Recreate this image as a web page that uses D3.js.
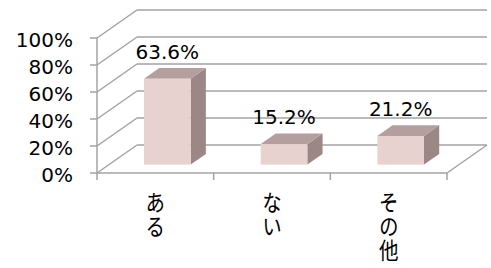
<!DOCTYPE html>
<html>
<head>
<meta charset="utf-8">
<script src="https://cdn.jsdelivr.net/npm/d3@7"></script>
<style>
  body { margin: 0; background: #fff; }
</style>
</head>
<body>
<div id="canvas"></div>
<script>
"use strict"

/* Data */
let categories = ["ある", "ない", "その他"];
let values = [0.636, 0.152, 0.212];
let valueLabels = ["63.6%", "15.2%", "21.2%"];
let yTicks = [0, 0.2, 0.4, 0.6, 0.8, 1.0];

/* Drawing config */
let svgWidth = 491;
let svgHeight = 268;
let depthX = 40;   // oblique offset of back wall
let depthY = -28;
let zFront = 0.3;  // bar depth position (0 = front, 1 = back)
let zBack = 0.68;
let gridColor = "#a3a3a3";

let svg = d3.select("#canvas")
    .append("svg")
    .attr("width", svgWidth)
    .attr("height", svgHeight);

let xScale = d3.scaleBand()
    .domain(categories)
    .range([97, 447])
    .paddingInner(0.6)
    .paddingOuter(0.3);

let yScale = d3.scaleLinear()
    .domain([0, 1])
    .range([173, 38]);

/* project a point at depth z */
function px(x, z) { return x + depthX * z; }
function py(v, z) { return yScale(v) + depthY * z; }

/* side wall diagonals + back wall gridlines */
yTicks.forEach(function (t) {
    svg.append("line")
        .attr("x1", px(97, 0)).attr("y1", py(t, 0))
        .attr("x2", px(97, 1)).attr("y2", py(t, 1))
        .attr("stroke", gridColor).attr("stroke-width", 1.5);
    svg.append("line")
        .attr("x1", px(97, 1)).attr("y1", py(t, 1))
        .attr("x2", px(447, 1)).attr("y2", py(t, 1))
        .attr("stroke", gridColor).attr("stroke-width", 1.5);
});

/* floor front and right edges */
svg.append("line")
    .attr("x1", 97).attr("y1", yScale(0))
    .attr("x2", 447).attr("y2", yScale(0))
    .attr("stroke", gridColor).attr("stroke-width", 1.5);
svg.append("line")
    .attr("x1", px(447, 0)).attr("y1", py(0, 0))
    .attr("x2", px(447, 1)).attr("y2", py(0, 1))
    .attr("stroke", gridColor).attr("stroke-width", 1.5);

/* front value axis */
svg.append("line")
    .attr("x1", 97).attr("y1", yScale(0))
    .attr("x2", 97).attr("y2", yScale(1))
    .attr("stroke", gridColor).attr("stroke-width", 1.5);

yTicks.forEach(function (t) {
    svg.append("line")
        .attr("x1", 90).attr("y1", yScale(t))
        .attr("x2", 97).attr("y2", yScale(t))
        .attr("stroke", gridColor).attr("stroke-width", 1.5);
    svg.append("text")
        .attr("x", 73)
        .attr("y", yScale(t) + 2)
        .attr("dy", "0.36em")
        .attr("text-anchor", "end")
        .style("font-family", "DejaVu Sans")
        .style("font-size", "20px")
        .style("fill", "#000")
        .text(Math.round(t * 100) + "%");
});

/* category ticks */
let catEdges = [97].concat(categories.map(function (c) {
    return xScale(c) + xScale.bandwidth() / 2 + xScale.step() / 2;
}));
catEdges.forEach(function (x) {
    svg.append("line")
        .attr("x1", x).attr("y1", yScale(0))
        .attr("x2", x).attr("y2", yScale(0) + 7)
        .attr("stroke", gridColor).attr("stroke-width", 1.5);
});

/* bars */
categories.forEach(function (c, i) {
    let x0 = xScale(c);
    let x1 = x0 + xScale.bandwidth();
    let v = values[i];
    let g = svg.append("g");

    // right side face
    g.append("polygon")
        .attr("points", [
            [px(x1, zFront), py(0, zFront)],
            [px(x1, zBack), py(0, zBack)],
            [px(x1, zBack), py(v, zBack)],
            [px(x1, zFront), py(v, zFront)]
        ].join(" "))
        .attr("fill", "#9c8787");

    // top face
    g.append("polygon")
        .attr("points", [
            [px(x0, zFront), py(v, zFront)],
            [px(x1, zFront), py(v, zFront)],
            [px(x1, zBack), py(v, zBack)],
            [px(x0, zBack), py(v, zBack)]
        ].join(" "))
        .attr("fill", "#b59f9e");

    // front face
    g.append("rect")
        .attr("x", px(x0, zFront))
        .attr("y", py(v, zFront))
        .attr("width", x1 - x0)
        .attr("height", yScale(0) - yScale(v))
        .attr("fill", "#e7d2cf");

    // value label
    svg.append("text")
        .attr("x", px(x0, zFront) + (x1 - x0) / 2)
        .attr("y", py(v, zBack) - 9)
        .attr("text-anchor", "middle")
        .style("font-family", "DejaVu Sans")
        .style("font-size", "20px")
        .style("fill", "#000")
        .text(valueLabels[i]);

    // vertical category label
    svg.append("text")
        .attr("transform", "translate(" + (x0 + xScale.bandwidth() / 2) + ",191) scale(0.85,1)")
        .attr("x", 0)
        .attr("y", 0)
        .style("writing-mode", "vertical-rl")
        .style("font-family", "Noto Sans CJK JP")
        .style("font-size", "23px")
        .style("letter-spacing", "1px")
        .style("fill", "#000")
        .text(c);
});
</script>
</body>
</html>
